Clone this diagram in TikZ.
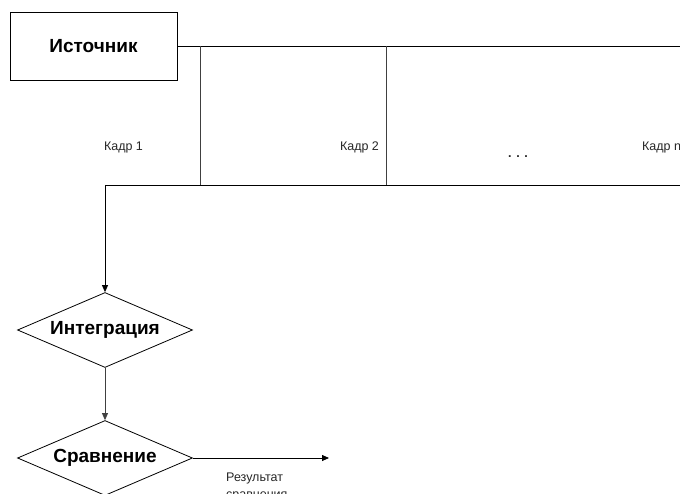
\documentclass[tikz,border=0pt]{standalone}
\usepackage{fontspec}
\setmainfont{Liberation Sans}
\usetikzlibrary{shapes.geometric,arrows.meta}
\begin{document}
\begin{tikzpicture}[x=1pt,y=-1pt,
  line/.style={draw=black,line width=0.8pt},
  thinline/.style={draw=black!75,line width=0.7pt},
  arr/.style={-{Triangle[length=7pt,width=6pt]}},
  srcbox/.style={draw,line width=0.8pt,minimum width=167pt,minimum height=68pt,inner sep=0pt,font=\fontsize{19}{21}\selectfont\bfseries},
  dia/.style={diamond,draw,line width=0.8pt,aspect=2.33,minimum width=175pt,minimum height=75pt,inner sep=0pt,font=\fontsize{19}{21}\selectfont\bfseries},
  lbl/.style={inner sep=0pt,font=\fontsize{12.5}{14.5}\selectfont,text=black!85}
]
\useasboundingbox (0,0) rectangle (680,494);
\clip (0,0) rectangle (680,494);
\node[srcbox] (src) at (93.5,46) {Источник};
\coordinate (topR) at (700,46);
\coordinate (v1t) at (200,46);
\coordinate (v2t) at (386,46);
\coordinate (v1b) at (200,185);
\coordinate (v2b) at (386,185);
\coordinate (botL) at (105,185);
\coordinate (botR) at (700,185);
\draw[line] (src.east) -- (topR);
\draw[thinline] (v1t) -- (v1b);
\draw[thinline] (v2t) -- (v2b);
\draw[line] (botL) -- (botR);
\node[lbl] (k1) at (123.5,147) {Кадр 1};
\node[lbl] (k2) at (359.5,147) {Кадр 2};
\node[lbl] (kd) at (518,157) {\bfseries . . .};
\node[lbl,anchor=west] (kn) at (642,147) {Кадр n};
\node[dia] (integ) at (105,330) {Интеграция};
\node[dia] (cmp) at (105,458) {Сравнение};
\coordinate (out) at (329,458);
\draw[line,arr] (botL) -- (integ.north);
\draw[thinline,arr] (integ.south) -- (cmp.north);
\draw[line,arr] (cmp.east) -- (out);
\node[lbl,anchor=north west,align=left,font=\fontsize{12.5}{17}\selectfont] (res) at (226,473) {Результат\\сравнения};
\end{tikzpicture}
\end{document}
